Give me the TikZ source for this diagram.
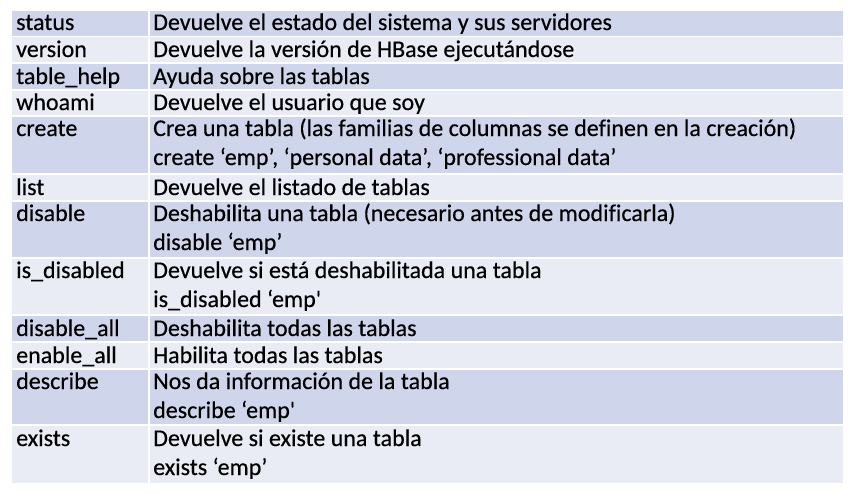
\documentclass[tikz,border=0pt]{standalone}
\usepackage{fontspec}
\setmainfont{Carlito}[Ligatures={TeXOff,CommonOff},FakeBold=0.35]
\definecolor{rowdark}{HTML}{CFD5EA}
\definecolor{rowlight}{HTML}{E9EBF5}
\begin{document}
\begin{tikzpicture}[x=1pt,y=-1pt,
  txt/.style={anchor=base west,inner sep=0pt,font=\fontsize{24}{29}\selectfont,text=black},
  sep/.style={draw=white,line width=1.6pt}]
\useasboundingbox (0,0) rectangle (859,493);
% row fills
\fill[rowdark]  (12,11)  rectangle (843,36.5);
\fill[rowlight] (12,36.5) rectangle (843,63);
\fill[rowdark]  (12,63)  rectangle (843,90);
\fill[rowlight] (12,90)  rectangle (843,116);
\fill[rowdark]  (12,116) rectangle (843,174);
\fill[rowlight] (12,174) rectangle (843,201);
\fill[rowdark]  (12,201) rectangle (843,258);
\fill[rowlight] (12,258) rectangle (843,315);
\fill[rowdark]  (12,315) rectangle (843,342);
\fill[rowlight] (12,342) rectangle (843,369);
\fill[rowdark]  (12,369) rectangle (843,425);
\fill[rowlight] (12,425) rectangle (843,483);
% separators
\foreach \yy in {36.5,63,90,116,174,201,258,315,342,369,425}
  \draw[sep] (12,\yy) -- (843,\yy);
\draw[sep] (149,11) -- (149,483);
% texts
\node[txt] (k1) at (16,30) {status};
\node[txt] (d1) at (153,30) {Devuelve el estado del sistema y sus servidores};
\node[txt] (k2) at (16,57) {version};
\node[txt] (d2) at (153,57) {Devuelve la versión de HBase ejecutándose};
\node[txt] (k3) at (16,84) {table\_help};
\node[txt] (d3) at (153,84) {Ayuda sobre las tablas};
\node[txt] (k4) at (16,110) {whoami};
\node[txt] (d4) at (153,110) {Devuelve el usuario que soy};
\node[txt] (k5) at (16,136) {create};
\node[txt] (d5) at (153,136) {Crea una tabla (las familias de columnas se definen en la creación)};
\node[txt] (e5) at (153,165) {create ‘emp’, ‘personal data’, ‘professional data’};
\node[txt] (k6) at (16,195) {list};
\node[txt] (d6) at (153,195) {Devuelve el listado de tablas};
\node[txt] (k7) at (16,221) {disable};
\node[txt] (d7) at (153,221) {Deshabilita una tabla (necesario antes de modificarla)};
\node[txt] (e7) at (153,250) {disable ‘emp’};
\node[txt] (k8) at (16,278) {is\_disabled};
\node[txt] (d8) at (153,278) {Devuelve si está deshabilitada una tabla};
\node[txt] (e8) at (153,307) {is\_disabled ‘emp'};
\node[txt] (k9) at (16,336) {disable\_all};
\node[txt] (d9) at (153,336) {Deshabilita todas las tablas};
\node[txt] (k10) at (16,363) {enable\_all};
\node[txt] (d10) at (153,363) {Habilita todas las tablas};
\node[txt] (k11) at (16,389) {describe};
\node[txt] (d11) at (153,389) {Nos da información de la tabla};
\node[txt] (e11) at (153,418) {describe ‘emp'};
\node[txt] (k12) at (16,446) {exists};
\node[txt] (d12) at (153,446) {Devuelve si existe una tabla};
\node[txt] (e12) at (153,475) {exists ‘emp’};
\end{tikzpicture}
\end{document}
